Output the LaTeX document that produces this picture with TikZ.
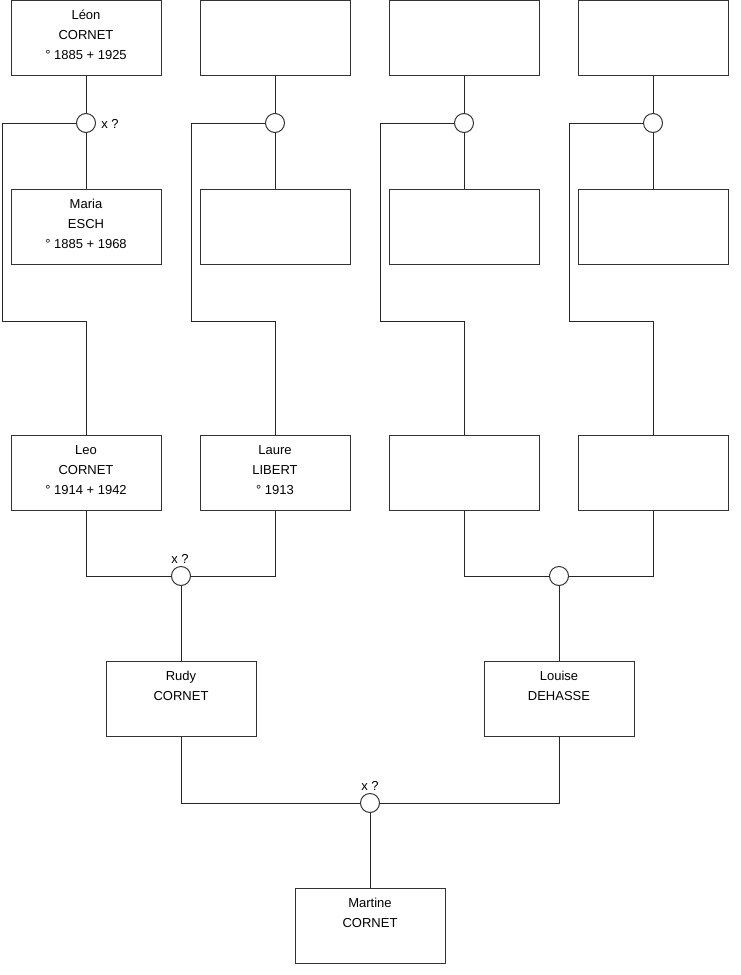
\documentclass[tikz,border=0pt]{standalone}
\usepackage{fontspec}
\setmainfont{Liberation Sans}
\newcommand{\fl}{\rule{0pt}{10pt}}
\begin{document}
\begin{tikzpicture}[x=1pt,y=-1pt,
  pbox/.style={draw=black!80,line width=1pt,fill=white,minimum width=150pt,minimum height=75pt,inner sep=0pt},
  ptext/.style={align=center,inner sep=0pt,anchor=north,font=\fontsize{13}{20}\selectfont},
  pcirc/.style={draw=black!80,line width=1pt,fill=white,circle,minimum size=19pt,inner sep=0pt},
  lnk/.style={draw=black!85,line width=1pt},
  xlab/.style={inner sep=0pt,anchor=base,font=\fontsize{13}{15}\selectfont}]
\useasboundingbox (0,0) rectangle (740,975);
% row 1
\node[pbox] (a1) at (86,38) {};
\node[pbox] (a2) at (275,38) {};
\node[pbox] (a3) at (464,38) {};
\node[pbox] (a4) at (653,38) {};
% row 2
\node[pbox] (b1) at (86,227) {};
\node[pbox] (b2) at (275,227) {};
\node[pbox] (b3) at (464,227) {};
\node[pbox] (b4) at (653,227) {};
% row 3
\node[pbox] (c1) at (86,473) {};
\node[pbox] (c2) at (275,473) {};
\node[pbox] (c3) at (464,473) {};
\node[pbox] (c4) at (653,473) {};
% row 4
\node[pbox] (d1) at (181,699) {};
\node[pbox] (d2) at (559,699) {};
% row 5
\node[pbox] (e1) at (370,926) {};
% texts
\node[ptext] (ta1) at ([yshift=-9.5pt]a1.north) {\fl Léon\\CORNET\\° 1885 + 1925};
\node[ptext] (tb1) at ([yshift=-9.5pt]b1.north) {\fl Maria\\ESCH\\° 1885 + 1968};
\node[ptext] (tc1) at ([yshift=-9.5pt]c1.north) {\fl Leo\\CORNET\\° 1914 + 1942};
\node[ptext] (tc2) at ([yshift=-9.5pt]c2.north) {\fl Laure\\LIBERT\\° 1913};
\node[ptext] (td1) at ([yshift=-9.5pt]d1.north) {\fl Rudy\\CORNET};
\node[ptext] (td2) at ([yshift=-9.5pt]d2.north) {\fl Louise\\DEHASSE};
\node[ptext] (te1) at ([yshift=-9.5pt]e1.north) {\fl Martine\\CORNET};
% marriage circles
\node[pcirc] (m1) at (86,123) {};
\node[pcirc] (m2) at (275,123) {};
\node[pcirc] (m3) at (464,123) {};
\node[pcirc] (m4) at (653,123) {};
\node[pcirc] (m5) at (181,576) {};
\node[pcirc] (m6) at (559,576) {};
\node[pcirc] (m7) at (370,803) {};
\node[xlab] (x1) at (110,128) {x ?};
\node[xlab] (x5) at (180,563) {x ?};
\node[xlab] (x7) at (370,790) {x ?};
% free corner points
\coordinate (k1) at (2,321);
\coordinate (k2) at (191,321);
\coordinate (k3) at (380,321);
\coordinate (k4) at (569,321);
\draw[lnk] (a1) -- (m1) -- (b1);
\draw[lnk] (a2) -- (m2) -- (b2);
\draw[lnk] (a3) -- (m3) -- (b3);
\draw[lnk] (a4) -- (m4) -- (b4);
\draw[lnk] (m1.west) -| (k1) -| (c1.north);
\draw[lnk] (m2.west) -| (k2) -| (c2.north);
\draw[lnk] (m3.west) -| (k3) -| (c3.north);
\draw[lnk] (m4.west) -| (k4) -| (c4.north);
\draw[lnk] (c1.south) |- (m5.west);
\draw[lnk] (c2.south) |- (m5.east);
\draw[lnk] (c3.south) |- (m6.west);
\draw[lnk] (c4.south) |- (m6.east);
\draw[lnk] (m5) -- (d1);
\draw[lnk] (m6) -- (d2);
\draw[lnk] (d1.south) |- (m7.west);
\draw[lnk] (d2.south) |- (m7.east);
\draw[lnk] (m7) -- (e1);
\end{tikzpicture}
\end{document}
